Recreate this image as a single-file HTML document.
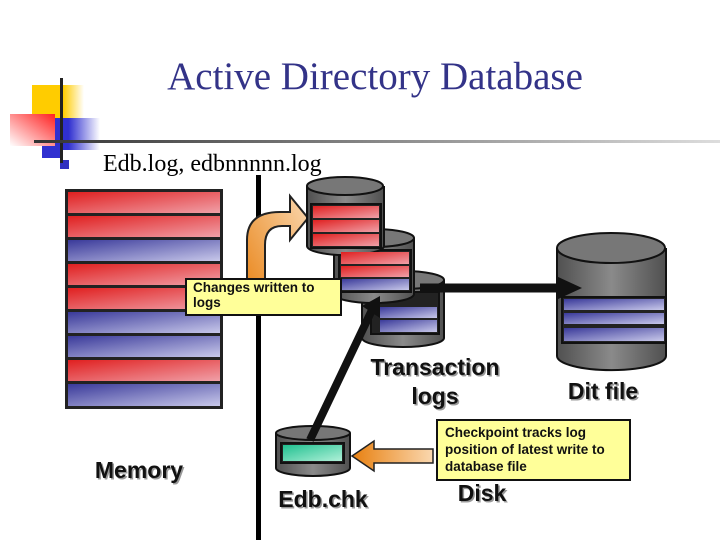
<!DOCTYPE html>
<html><head><meta charset="utf-8"><style>body{margin:0;background:#fff}svg{display:block}</style></head><body>
<svg width="720" height="540" viewBox="0 0 720 540" xmlns="http://www.w3.org/2000/svg" font-family="Liberation Sans, sans-serif">
<defs>
<linearGradient id="r" x1="0" y1="0" x2="1" y2="1"><stop offset="0" stop-color="#e02020"/><stop offset="1" stop-color="#f0a0a8"/></linearGradient>
<linearGradient id="b" x1="0" y1="0" x2="1" y2="1"><stop offset="0" stop-color="#3a3a9a"/><stop offset="1" stop-color="#c8c8ea"/></linearGradient>
<linearGradient id="t" x1="0" y1="0" x2="1" y2="1"><stop offset="0" stop-color="#20c090"/><stop offset="1" stop-color="#b0f0d8"/></linearGradient>
<linearGradient id="cyl" x1="0" y1="0" x2="1" y2="0"><stop offset="0" stop-color="#505050"/><stop offset="0.5" stop-color="#8a8a8a"/><stop offset="1" stop-color="#505050"/></linearGradient>
<linearGradient id="o" x1="0" y1="1" x2="1" y2="0"><stop offset="0" stop-color="#e88010"/><stop offset="1" stop-color="#fad8b0"/></linearGradient>
<linearGradient id="o2" x1="0" y1="0" x2="1" y2="0"><stop offset="0" stop-color="#e88010"/><stop offset="1" stop-color="#fad8b0"/></linearGradient>
<linearGradient id="hl" x1="0" y1="0" x2="1" y2="0"><stop offset="0" stop-color="#333"/><stop offset="1" stop-color="#ddd"/></linearGradient>
<linearGradient id="lr" x1="1" y1="0" x2="0" y2="1"><stop offset="0" stop-color="#ff2020"/><stop offset="1" stop-color="#fff"/></linearGradient>
<linearGradient id="lb" x1="0" y1="0" x2="1" y2="0"><stop offset="0.3" stop-color="#3030d0"/><stop offset="1" stop-color="#fff"/></linearGradient>
<linearGradient id="ly" x1="0" y1="0" x2="1" y2="0"><stop offset="0.6" stop-color="#ffcc00"/><stop offset="1" stop-color="#fff"/></linearGradient>
</defs>
<rect x="32" y="85" width="52" height="33" fill="url(#ly)"/>
<rect x="55" y="118" width="45" height="32" fill="url(#lb)"/>
<rect x="42" y="138" width="20" height="20" fill="#3030d0"/>
<rect x="10" y="114" width="45" height="32" fill="url(#lr)"/>
<rect x="60" y="160" width="9" height="9" fill="#3030c0"/>
<rect x="60" y="78" width="3" height="85" fill="#222"/>
<rect x="34" y="140" width="686" height="3" fill="url(#hl)"/>
<text x="375" y="89" text-anchor="middle" font-family="Liberation Serif, serif" font-size="39" fill="#333388">Active Directory Database</text>
<text x="103" y="171" font-family="Liberation Serif, serif" font-size="24" fill="#000">Edb.log, edbnnnnn.log</text>
<rect x="65" y="189" width="158" height="220" fill="#222"/>
<g>
<rect x="68" y="192" width="152" height="21" fill="url(#r)"/>
<rect x="68" y="216" width="152" height="21" fill="url(#r)"/>
<rect x="68" y="240" width="152" height="21" fill="url(#b)"/>
<rect x="68" y="264" width="152" height="21" fill="url(#r)"/>
<rect x="68" y="288" width="152" height="21" fill="url(#r)"/>
<rect x="68" y="312" width="152" height="21" fill="url(#b)"/>
<rect x="68" y="336" width="152" height="21" fill="url(#b)"/>
<rect x="68" y="360" width="152" height="21" fill="url(#r)"/>
<rect x="68" y="384" width="152" height="22" fill="url(#b)"/>
</g>
<rect x="256" y="175" width="5" height="365" fill="#000"/>
<path d="M247,312 L247,240 Q247,212 280,212 L290,212 L290,196 L308,218 L290,240 L290,226 L282,226 Q265,226 265,245 L265,312 Z" fill="url(#o)" stroke="#222" stroke-width="2"/>
<g stroke="#111" stroke-width="2">
<path d="M362,280 v58 a41,9 0 0 0 82,0 v-58" fill="url(#cyl)"/><ellipse cx="403" cy="280" rx="41" ry="9" fill="#777"/>
<rect x="371" y="292" width="68" height="42" fill="#222"/>
<path d="M334,238 v56 a40,9 0 0 0 80,0 v-56" fill="url(#cyl)"/><ellipse cx="374" cy="238" rx="40" ry="9" fill="#777"/>
<rect x="339" y="250" width="72" height="42" fill="#222"/>
<path d="M307,186 v60 a38,9 0 0 0 77,0 v-60" fill="url(#cyl)"/><ellipse cx="345" cy="186" rx="38" ry="9" fill="#777"/>
<rect x="311" y="204" width="70" height="44" fill="#222"/>
<path d="M557,248 v108 a54,14 0 0 0 109,0 v-108" fill="url(#cyl)"/><ellipse cx="611" cy="248" rx="54" ry="15" fill="#777"/>
<rect x="562" y="297" width="104" height="46" fill="#222"/>
<path d="M276,433 v35 a37,8 0 0 0 74,0 v-35" fill="url(#cyl)"/><ellipse cx="313" cy="433" rx="37" ry="7" fill="#777"/>
<rect x="281" y="443" width="63" height="20" fill="#222"/>
</g>
<g>
<rect x="380" y="307" width="57" height="11" fill="url(#b)"/><rect x="380" y="320" width="57" height="12" fill="url(#b)"/>
<rect x="341" y="252" width="68" height="12" fill="url(#r)"/><rect x="341" y="266" width="68" height="11" fill="url(#r)"/><rect x="341" y="279" width="68" height="11" fill="url(#b)"/>
<rect x="313" y="206" width="66" height="12" fill="url(#r)"/><rect x="313" y="220" width="66" height="12" fill="url(#r)"/><rect x="313" y="234" width="66" height="12" fill="url(#r)"/>
<rect x="564" y="299" width="100" height="11" fill="url(#b)"/><rect x="564" y="313" width="100" height="11" fill="url(#b)"/><rect x="564" y="328" width="100" height="13" fill="url(#b)"/>
<rect x="283" y="445" width="59" height="16" fill="url(#t)"/>
</g>
<line x1="420" y1="288" x2="562" y2="288" stroke="#111" stroke-width="9"/>
<polygon points="556,276 582,288 556,300" fill="#111"/>
<line x1="310" y1="440" x2="372" y2="310" stroke="#111" stroke-width="8"/>
<polygon points="362,306 380,296 380,318" fill="#111"/>
<path d="M433,449 L374,449 L374,441 L352,456 L374,471 L374,463 L433,463 Z" fill="url(#o2)" stroke="#222" stroke-width="1.5"/>
<rect x="186" y="279" width="155" height="36" fill="#ffff99" stroke="#111" stroke-width="2"/>
<text font-size="13.5" font-weight="bold" fill="#111"><tspan x="193" y="292">Changes written to</tspan><tspan x="193" y="307">logs</tspan></text>
<rect x="437" y="420" width="193" height="60" fill="#ffff99" stroke="#111" stroke-width="2"/>
<text font-size="13.5" font-weight="bold" fill="#111"><tspan x="445" y="437">Checkpoint tracks log</tspan><tspan x="445" y="454">position of latest write to</tspan><tspan x="445" y="471">database file</tspan></text>
<g font-size="23" font-weight="bold" text-anchor="middle">
<g fill="#999" transform="translate(1.5,1.5)"><text x="435" y="375">Transaction</text><text x="435" y="404">logs</text><text x="603" y="399">Dit file</text><text x="139" y="478">Memory</text><text x="323" y="507">Edb.chk</text><text x="482" y="501">Disk</text></g>
<g fill="#111"><text x="435" y="375">Transaction</text><text x="435" y="404">logs</text><text x="603" y="399">Dit file</text><text x="139" y="478">Memory</text><text x="323" y="507">Edb.chk</text><text x="482" y="501">Disk</text></g>
</g>
</svg>
</body></html>
